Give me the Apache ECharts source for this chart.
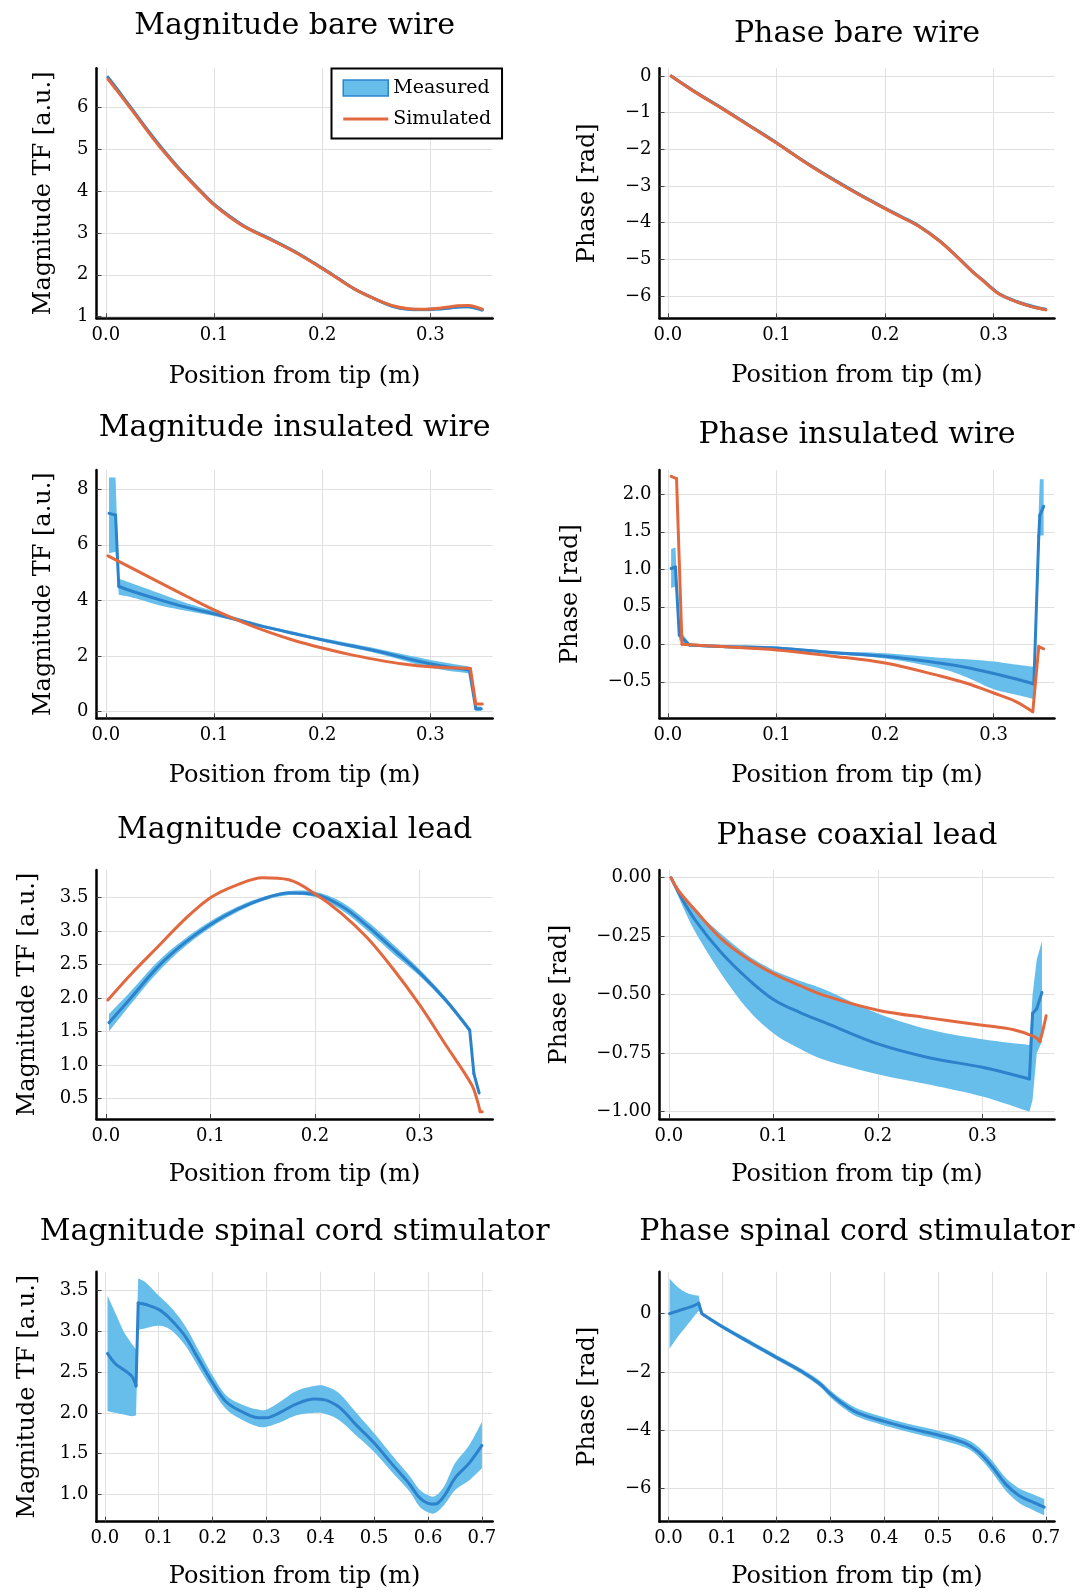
<!DOCTYPE html>
<html>
<head>
<meta charset="utf-8">
<script src="https://cdn.jsdelivr.net/npm/echarts@6/dist/echarts.min.js"></script>
<style>
html,body{margin:0;padding:0;background:#fff;}
#chart{width:1088px;height:1594px;}
</style>
</head>
<body>
<div id="chart"></div>
<script>
// ---------------- DATA ----------------
const xTicksShort = [0, 0.1, 0.2, 0.3];
const xLabelsShort = ['0.0', '0.1', '0.2', '0.3'];
const xTicksLong = [0, 0.1, 0.2, 0.3, 0.4, 0.5, 0.6, 0.7];
const xLabelsLong = ['0.0', '0.1', '0.2', '0.3', '0.4', '0.5', '0.6', '0.7'];

const yTicks1 = [1, 2, 3, 4, 5, 6];
const yLabels1 = ['1', '2', '3', '4', '5', '6'];
const yTicks2 = [0, -1, -2, -3, -4, -5, -6];
const yLabels2 = ['0', '\u22121', '\u22122', '\u22123', '\u22124', '\u22125', '\u22126'];
const yTicks3 = [0, 2, 4, 6, 8];
const yLabels3 = ['0', '2', '4', '6', '8'];
const yTicks4 = [-0.5, 0, 0.5, 1, 1.5, 2];
const yLabels4 = ['\u22120.5', '0.0', '0.5', '1.0', '1.5', '2.0'];
const yTicks5 = [0.5, 1, 1.5, 2, 2.5, 3, 3.5];
const yLabels5 = ['0.5', '1.0', '1.5', '2.0', '2.5', '3.0', '3.5'];
const yTicks6 = [0, -0.25, -0.5, -0.75, -1];
const yLabels6 = ['0.00', '\u22120.25', '\u22120.50', '\u22120.75', '\u22121.00'];
const yTicks7 = [1, 1.5, 2, 2.5, 3, 3.5];
const yLabels7 = ['1.0', '1.5', '2.0', '2.5', '3.0', '3.5'];
const yTicks8 = [0, -2, -4, -6];
const yLabels8 = ['0', '\u22122', '\u22124', '\u22126'];

// Panel 1: Magnitude bare wire
const x1 = [0.002, 0.01, 0.025, 0.04, 0.05, 0.065, 0.075, 0.09, 0.1, 0.115, 0.13, 0.15, 0.175, 0.2, 0.215, 0.23, 0.25, 0.265, 0.28, 0.295, 0.31, 0.325, 0.335, 0.348];
const sim1 = [6.67, 6.41, 5.9, 5.38, 5.05, 4.6, 4.32, 3.92, 3.67, 3.37, 3.12, 2.87, 2.54, 2.15, 1.9, 1.66, 1.41, 1.26, 1.19, 1.18, 1.21, 1.26, 1.27, 1.18];
const mean1 = [6.72, 6.45, 5.93, 5.41, 5.08, 4.62, 4.34, 3.94, 3.69, 3.39, 3.13, 2.88, 2.55, 2.16, 1.91, 1.66, 1.41, 1.25, 1.18, 1.17, 1.19, 1.23, 1.24, 1.16];
const lo1 = [6.68, 6.41, 5.89, 5.37, 5.04, 4.58, 4.30, 3.90, 3.65, 3.35, 3.09, 2.84, 2.51, 2.12, 1.87, 1.62, 1.37, 1.21, 1.14, 1.13, 1.15, 1.19, 1.20, 1.12];
const hi1 = [6.76, 6.49, 5.97, 5.45, 5.12, 4.66, 4.38, 3.98, 3.73, 3.43, 3.17, 2.92, 2.59, 2.20, 1.95, 1.70, 1.45, 1.29, 1.22, 1.21, 1.23, 1.27, 1.28, 1.20];

// Panel 2: Phase bare wire
const x2 = [0.003, 0.025, 0.05, 0.075, 0.1, 0.125, 0.15, 0.175, 0.2, 0.215, 0.231, 0.25, 0.265, 0.28, 0.29, 0.305, 0.32, 0.33, 0.34, 0.348];
const sim2 = [0, -0.44, -0.89, -1.36, -1.83, -2.33, -2.79, -3.22, -3.62, -3.85, -4.1, -4.5, -4.9, -5.33, -5.58, -5.95, -6.15, -6.25, -6.33, -6.38];
const mean2 = [0, -0.43, -0.88, -1.35, -1.82, -2.32, -2.78, -3.21, -3.61, -3.84, -4.09, -4.49, -4.89, -5.32, -5.57, -5.94, -6.14, -6.24, -6.32, -6.37];
const lo2 = [-0.05, -0.48, -0.93, -1.40, -1.87, -2.37, -2.83, -3.26, -3.66, -3.89, -4.14, -4.54, -4.94, -5.37, -5.62, -5.99, -6.19, -6.29, -6.37, -6.42];
const hi2 = [0.05, -0.38, -0.83, -1.30, -1.77, -2.27, -2.73, -3.16, -3.56, -3.79, -4.04, -4.44, -4.84, -5.27, -5.52, -5.89, -6.09, -6.19, -6.27, -6.32];

// Panel 3: Magnitude insulated wire
const x3m = [0.003, 0.009, 0.012, 0.025, 0.05, 0.075, 0.1, 0.125, 0.15, 0.175, 0.2, 0.25, 0.3, 0.336, 0.342, 0.347];
const mean3 = [7.13, 7.07, 4.5, 4.32, 4.02, 3.75, 3.52, 3.27, 3.02, 2.8, 2.58, 2.18, 1.72, 1.5, 0.1, 0.1];
const lo3 = [5.7, 5.75, 4.2, 4.1, 3.82, 3.62, 3.44, 3.21, 2.97, 2.75, 2.52, 2.1, 1.58, 1.38, 0.02, 0.02];
const hi3 = [8.42, 8.42, 4.78, 4.6, 4.25, 3.9, 3.62, 3.34, 3.08, 2.86, 2.65, 2.27, 1.86, 1.62, 0.18, 0.18];
const x3s = [0.002, 0.025, 0.05, 0.075, 0.1, 0.125, 0.15, 0.175, 0.2, 0.225, 0.25, 0.275, 0.3, 0.337, 0.342, 0.348];
const sim3 = [5.6, 5.14, 4.64, 4.14, 3.66, 3.24, 2.87, 2.55, 2.29, 2.06, 1.87, 1.71, 1.61, 1.55, 0.27, 0.27];

// Panel 4: Phase insulated wire
const x4m = [0.003, 0.007, 0.0105, 0.02, 0.05, 0.1, 0.15, 0.2, 0.25, 0.275, 0.3, 0.32, 0.337, 0.3415, 0.3425, 0.346];
const mean4 = [1.01, 1.03, 0.12, -0.01, -0.03, -0.05, -0.11, -0.16, -0.25, -0.31, -0.39, -0.46, -0.53, 1.44, 1.72, 1.84];
const lo4 = [0.75, 0.77, 0.05, -0.03, -0.05, -0.07, -0.13, -0.19, -0.32, -0.44, -0.6, -0.67, -0.73, 1.1, 1.45, 1.45];
const hi4 = [1.27, 1.29, 0.2, 0.01, -0.01, -0.03, -0.09, -0.12, -0.18, -0.2, -0.23, -0.27, -0.3, 1.8, 2.2, 2.2];
const x4s = [0.003, 0.008, 0.013, 0.05, 0.1, 0.15, 0.2, 0.25, 0.275, 0.3, 0.32, 0.336, 0.3415, 0.346];
const sim4 = [2.24, 2.21, 0.0, -0.03, -0.075, -0.155, -0.25, -0.42, -0.52, -0.65, -0.76, -0.9, -0.03, -0.06];

// Panel 5: Magnitude coaxial lead
const x5m = [0.003, 0.025, 0.05, 0.075, 0.1, 0.125, 0.15, 0.175, 0.2, 0.225, 0.25, 0.275, 0.3, 0.325, 0.348, 0.352, 0.357];
const mean5 = [1.63, 2.02, 2.47, 2.82, 3.1, 3.32, 3.48, 3.57, 3.55, 3.38, 3.08, 2.73, 2.38, 1.97, 1.52, 0.87, 0.58];
const lo5 = [1.5, 1.93, 2.39, 2.76, 3.05, 3.28, 3.45, 3.54, 3.51, 3.32, 3.01, 2.66, 2.33, 1.93, 1.48, 0.8, 0.53];
const hi5 = [1.76, 2.12, 2.55, 2.88, 3.15, 3.36, 3.51, 3.6, 3.59, 3.44, 3.15, 2.8, 2.43, 2.01, 1.56, 0.92, 0.63];
const x5s = [0.002, 0.025, 0.05, 0.075, 0.1, 0.125, 0.15, 0.175, 0.2, 0.225, 0.25, 0.275, 0.3, 0.325, 0.35, 0.355, 0.358, 0.36];
const sim5 = [1.97, 2.37, 2.77, 3.17, 3.5, 3.69, 3.8, 3.77, 3.56, 3.27, 2.9, 2.43, 1.9, 1.3, 0.7, 0.48, 0.3, 0.3];

// Panel 6: Phase coaxial lead
const x6m = [0.002, 0.01, 0.025, 0.05, 0.075, 0.1, 0.125, 0.15, 0.2, 0.25, 0.3, 0.345, 0.348, 0.352, 0.357];
const mean6 = [0, -0.07, -0.18, -0.32, -0.43, -0.52, -0.575, -0.62, -0.71, -0.77, -0.81, -0.86, -0.58, -0.56, -0.49];
const lo6 = [0, -0.09, -0.23, -0.41, -0.56, -0.665, -0.73, -0.78, -0.84, -0.885, -0.935, -1.0, -0.95, -0.75, -0.7];
const hi6 = [0, -0.06, -0.14, -0.24, -0.33, -0.395, -0.44, -0.48, -0.58, -0.65, -0.69, -0.715, -0.5, -0.35, -0.27];
const x6s = [0.002, 0.01, 0.025, 0.05, 0.075, 0.1, 0.125, 0.15, 0.2, 0.25, 0.3, 0.33, 0.35, 0.355, 0.358, 0.361];
const sim6 = [0, -0.06, -0.138, -0.26, -0.345, -0.41, -0.46, -0.505, -0.566, -0.6, -0.63, -0.65, -0.68, -0.7, -0.65, -0.59];

// Panel 7: Magnitude spinal cord stimulator
const x7 = [0.005, 0.02, 0.035, 0.05, 0.058, 0.062, 0.076, 0.1, 0.122, 0.148, 0.174, 0.2, 0.226, 0.259, 0.285, 0.3, 0.324, 0.356, 0.389, 0.408, 0.435, 0.467, 0.5, 0.532, 0.565, 0.584, 0.6, 0.613, 0.63, 0.65, 0.676, 0.7];
const mean7 = [2.73, 2.6, 2.53, 2.45, 2.33, 3.35, 3.33, 3.27, 3.15, 2.95, 2.66, 2.37, 2.13, 2.0, 1.94, 1.94, 2.0, 2.11, 2.17, 2.16, 2.07, 1.85, 1.63, 1.38, 1.13, 0.96, 0.89, 0.88, 0.98, 1.2, 1.38, 1.6];
const hi7 = [3.44, 3.22, 3.0, 2.85, 2.78, 3.65, 3.6, 3.44, 3.3, 3.08, 2.77, 2.46, 2.21, 2.09, 2.04, 2.04, 2.13, 2.27, 2.33, 2.33, 2.24, 2.0, 1.75, 1.49, 1.23, 1.06, 0.99, 0.98, 1.1, 1.38, 1.6, 1.89];
const lo7 = [2.02, 2.0, 1.98, 1.96, 1.97, 3.02, 3.04, 3.07, 3.02, 2.84, 2.56, 2.28, 2.04, 1.9, 1.83, 1.83, 1.88, 1.97, 2.0, 1.99, 1.91, 1.72, 1.52, 1.28, 1.04, 0.85, 0.78, 0.77, 0.87, 1.05, 1.17, 1.32];

// Panel 8: Phase spinal cord stimulator
const x8 = [0.002, 0.015, 0.03, 0.045, 0.056, 0.062, 0.1, 0.15, 0.2, 0.25, 0.28, 0.3, 0.32, 0.35, 0.4, 0.45, 0.5, 0.55, 0.575, 0.6, 0.625, 0.65, 0.675, 0.697];
const mean8 = [0, 0.08, 0.17, 0.26, 0.36, 0.0, -0.45, -0.98, -1.5, -2.02, -2.4, -2.75, -3.05, -3.4, -3.7, -3.95, -4.17, -4.45, -4.75, -5.25, -5.85, -6.25, -6.47, -6.65];
const hi8 = [1.2, 0.95, 0.75, 0.65, 0.62, 0.06, -0.38, -0.9, -1.42, -1.93, -2.3, -2.63, -2.92, -3.26, -3.56, -3.81, -4.02, -4.3, -4.58, -5.05, -5.63, -6.0, -6.2, -6.37];
const lo8 = [-1.2, -0.85, -0.5, -0.15, 0.1, -0.06, -0.52, -1.06, -1.58, -2.11, -2.5, -2.87, -3.18, -3.54, -3.84, -4.09, -4.32, -4.6, -4.92, -5.45, -6.07, -6.5, -6.74, -6.93];

// ---------------- STYLE / LAYOUT ----------------
const FONT = "'DejaVu Serif', serif";
const C_BAND = '#68BEEB';
const C_MEAN = '#2C82CB';
const C_SIM = '#E2693F';

const colLeft = [96.5, 659.5];
const colWidth = [396.2, 395];
const rowTop = [68.3, 470, 870, 1271.7];
const rowHeight = [250, 248.3, 249, 250];

// corner indices: where a curve has a sharp jump, smoothing is split there
const panels = [
  {title: 'Magnitude bare wire', ylabel: 'Magnitude TF [a.u.]', col: 0, row: 0, xr: [-0.0086, 0.3576], yr: [0.962, 6.93],
   xt: xTicksShort, xl: xLabelsShort, yt: yTicks1, yl: yLabels1, yGap: 41, xGap: 46, titleY: 24.5,
   meas: [x1, mean1, lo1, hi1], mCorners: [], sim: [x1, sim1], sCorners: []},
  {title: 'Phase bare wire', ylabel: 'Phase [rad]', col: 1, row: 0, xr: [-0.0077, 0.356], yr: [-6.61, 0.21],
   xt: xTicksShort, xl: xLabelsShort, yt: yTicks2, yl: yLabels2, yGap: 60, xGap: 45, titleY: 32.5,
   meas: [x2, mean2, lo2, hi2], mCorners: [], sim: [x2, sim2], sCorners: []},
  {title: 'Magnitude insulated wire', ylabel: 'Magnitude TF [a.u.]', col: 0, row: 1, xr: [-0.0086, 0.3576], yr: [-0.24, 8.69],
   xt: xTicksShort, xl: xLabelsShort, yt: yTicks3, yl: yLabels3, yGap: 41, xGap: 45, titleY: 426,
   meas: [x3m, mean3, lo3, hi3], mCorners: [1, 2, 13, 14], sim: [x3s, sim3], sCorners: [13, 14]},
  {title: 'Phase insulated wire', ylabel: 'Phase [rad]', col: 1, row: 1, xr: [-0.0077, 0.356], yr: [-0.987, 2.324],
   xt: xTicksShort, xl: xLabelsShort, yt: yTicks4, yl: yLabels4, yGap: 77, xGap: 45, titleY: 433,
   meas: [x4m, mean4, lo4, hi4], mCorners: [1, 2, 3, 12, 13, 14], sim: [x4s, sim4], sCorners: [1, 2, 11, 12]},
  {title: 'Magnitude coaxial lead', ylabel: 'Magnitude TF [a.u.]', col: 0, row: 2, xr: [-0.0089, 0.370], yr: [0.19, 3.915],
   xt: xTicksShort, xl: xLabelsShort, yt: yTicks5, yl: yLabels5, yGap: 57, xGap: 44, titleY: 828,
   meas: [x5m, mean5, lo5, hi5], mCorners: [14, 15], sim: [x5s, sim5], sCorners: [16]},
  {title: 'Phase coaxial lead', ylabel: 'Phase [rad]', col: 1, row: 2, xr: [-0.009, 0.369], yr: [-1.031, 0.033],
   xt: xTicksShort, xl: xLabelsShort, yt: yTicks6, yl: yLabels6, yGap: 88, xGap: 44, titleY: 834,
   meas: [x6m, mean6, lo6, hi6], mCorners: [11, 12, 13], sim: [x6s, sim6], sCorners: [13]},
  {title: 'Magnitude spinal cord stimulator', ylabel: 'Magnitude TF [a.u.]', col: 0, row: 3, xr: [-0.0154, 0.72], yr: [0.664, 3.733],
   xt: xTicksLong, xl: xLabelsLong, yt: yTicks7, yl: yLabels7, yGap: 57, xGap: 43, titleY: 1230,
   meas: [x7, mean7, lo7, hi7], mCorners: [4, 5], sim: null, sCorners: []},
  {title: 'Phase spinal cord stimulator', ylabel: 'Phase [rad]', col: 1, row: 3, xr: [-0.0167, 0.716], yr: [-7.15, 1.443],
   xt: xTicksLong, xl: xLabelsLong, yt: yTicks8, yl: yLabels8, yGap: 60, xGap: 43, titleY: 1230,
   meas: [x8, mean8, lo8, hi8], mCorners: [4, 5], sim: null, sCorners: []}
];

function labelFor(ticks, labels) {
  return function (v) {
    for (let i = 0; i < ticks.length; i++) if (Math.abs(ticks[i] - v) < 1e-9) return labels[i];
    return '';
  };
}

// Catmull-Rom rendering of a band edge (pixel points from api.coord), split at corners
function smoothEdge(pts, corners) {
  const cuts = [0].concat(corners, [pts.length - 1]);
  const out = [pts[0]];
  for (let s = 0; s < cuts.length - 1; s++) {
    const a = cuts[s], b = cuts[s + 1];
    if (b - a < 2) { out.push(pts[b]); continue; }
    for (let k = a; k < b; k++) {
      const p0 = pts[Math.max(k - 1, a)], p1 = pts[k], p2 = pts[k + 1], p3 = pts[Math.min(k + 2, b)];
      for (let t = 1; t <= 8; t++) {
        const u = t / 8, u2 = u * u, u3 = u2 * u;
        const q = [0, 1].map(d => 0.5 * ((2 * p1[d]) + (-p0[d] + p2[d]) * u +
          (2 * p0[d] - 5 * p1[d] + 4 * p2[d] - p3[d]) * u2 + (-p0[d] + 3 * p1[d] - 3 * p2[d] + p3[d]) * u3));
        out.push(q);
      }
    }
  }
  return out;
}

const grid = [], xAxis = [], yAxis = [], title = [], series = [];

function addLine(i, xs, ys, corners, name, color, z) {
  const cuts = [0].concat(corners, [xs.length - 1]);
  for (let s = 0; s < cuts.length - 1; s++) {
    const a = cuts[s], b = cuts[s + 1];
    const data = [];
    for (let k = a; k <= b; k++) data.push([xs[k], ys[k]]);
    series.push({
      type: 'line', name: name, xAxisIndex: i, yAxisIndex: i, z: z, silent: true,
      data: data, showSymbol: false, symbol: 'none',
      smooth: (b - a) > 1 ? 0.35 : false,
      lineStyle: {color: color, width: 3, cap: 'round', join: 'round'}, itemStyle: {color: color}
    });
  }
}

panels.forEach((p, i) => {
  const left = colLeft[p.col], width = colWidth[p.col], top = rowTop[p.row], height = rowHeight[p.row];
  grid.push({left: left, top: top, width: width, height: height, containLabel: false});
  title.push({
    text: p.title, left: left + width / 2, top: p.titleY - 13, textAlign: 'center', padding: 0,
    textStyle: {fontFamily: FONT, fontSize: 30, fontWeight: 'normal', color: '#000'}
  });
  const commonAxis = {
    axisLine: {show: true, onZero: false, lineStyle: {color: '#000', width: 2.5}},
    splitLine: {show: true, lineStyle: {color: '#e0e0e0', width: 1}}
  };
  xAxis.push(Object.assign({}, commonAxis, {
    gridIndex: i, type: 'value', min: p.xr[0], max: p.xr[1],
    axisTick: {show: true, inside: true, length: 5, customValues: p.xt, lineStyle: {color: '#444', width: 1}},
    axisLabel: {customValues: p.xt, formatter: labelFor(p.xt, p.xl), fontFamily: FONT, fontSize: 18, color: '#000', margin: 8},
    name: 'Position from tip (m)', nameLocation: 'middle', nameGap: p.xGap,
    nameTextStyle: {fontFamily: FONT, fontSize: 24, color: '#000'}
  }));
  yAxis.push(Object.assign({}, commonAxis, {
    gridIndex: i, type: 'value', min: p.yr[0], max: p.yr[1],
    axisTick: {show: true, inside: true, length: 5, customValues: p.yt, lineStyle: {color: '#444', width: 1}},
    axisLabel: {customValues: p.yt, formatter: labelFor(p.yt, p.yl), fontFamily: FONT, fontSize: 18, color: '#000', margin: 8},
    name: p.ylabel, nameLocation: 'middle', nameGap: p.yGap,
    nameTextStyle: {fontFamily: FONT, fontSize: 24, color: '#000'}
  }));

  const xs = p.meas[0], mean = p.meas[1], lo = p.meas[2], hi = p.meas[3];
  const corners = p.mCorners;
  series.push({
    type: 'custom', name: 'Measured', xAxisIndex: i, yAxisIndex: i, z: 2, silent: true,
    data: xs.map((x, k) => [x, lo[k], hi[k]]),
    encode: {x: 0, y: [1, 2]},
    renderItem: function (params, api) {
      if (params.dataIndex !== 0) return null;
      const loPts = xs.map((x, k) => api.coord([x, lo[k]]));
      const hiPts = xs.map((x, k) => api.coord([x, hi[k]]));
      const pts = smoothEdge(loPts, corners).concat(smoothEdge(hiPts, corners).reverse());
      return {type: 'polygon', shape: {points: pts}, style: {fill: C_BAND}};
    }
  });
  addLine(i, xs, mean, corners, 'Measured mean', C_MEAN, 3);
  if (p.sim) addLine(i, p.sim[0], p.sim[1], p.sCorners, 'Simulated', C_SIM, 4);
});

const chart = echarts.init(document.getElementById('chart'), null, {renderer: 'canvas'});
chart.setOption({
  animation: false,
  backgroundColor: '#fff',
  title: title,
  grid: grid,
  xAxis: xAxis,
  yAxis: yAxis,
  legend: {
    show: true, orient: 'vertical', left: 331.5, top: 68.5,
    padding: [10, 11, 10, 11], itemGap: 12, itemWidth: 45, itemHeight: 16,
    borderColor: '#000', borderWidth: 2, backgroundColor: '#fff', borderRadius: 0,
    selectedMode: false,
    textStyle: {fontFamily: FONT, fontSize: 19, color: '#000'},
    data: [
      {name: 'Measured', icon: 'rect', itemStyle: {color: C_BAND, borderColor: C_MEAN, borderWidth: 1.5}},
      {name: 'Simulated', icon: 'path://M0,0L0.01,0L0,0.01Z M45,16L44.99,16L45,15.99Z M0,6.5L45,6.5L45,9.5L0,9.5Z',
       itemStyle: {color: C_SIM, borderWidth: 0}}
    ]
  },
  series: series
});
</script>
</body>
</html>
